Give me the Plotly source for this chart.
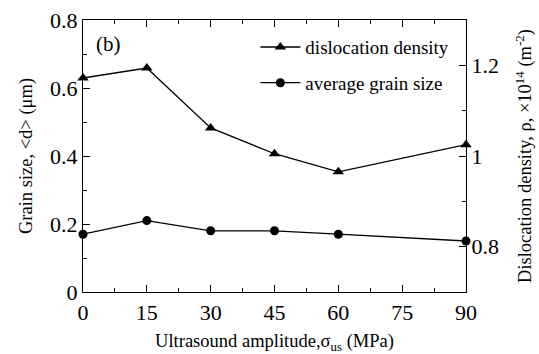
import plotly.graph_objects as go

amplitude = [0, 15, 30, 45, 60, 90]
grain_size = [0.17, 0.21, 0.18, 0.18, 0.17, 0.15]
dislocation_density = [1.172, 1.194, 1.062, 1.005, 0.965, 1.025]
x_ticks = [0, 15, 30, 45, 60, 75, 90]

FONT = "'Liberation Serif', 'Times New Roman', serif"

fig = go.Figure()
fig.add_trace(go.Scatter(
    x=amplitude, y=dislocation_density, yaxis="y2", name="dislocation density",
    legendgroup="a",
    mode="lines+markers", line=dict(color="black", width=1.3),
    marker=dict(symbol="triangle-up", size=10, color="black"), cliponaxis=False))
fig.add_trace(go.Scatter(
    x=amplitude, y=grain_size, name="average grain size", legendgroup="b",
    mode="lines+markers", line=dict(color="black", width=1.3),
    marker=dict(symbol="circle", size=9, color="black"), cliponaxis=False))

axis_common = dict(showline=True, linecolor="black", linewidth=1.3, showgrid=False,
                   zeroline=False, ticks="inside", tickcolor="black", ticklen=7, tickwidth=1.2,
                   automargin=False,
                   tickfont=dict(family=FONT, size=22, color="black"))
minor_common = dict(ticks="inside", ticklen=4, tickcolor="black", tickwidth=1.2, showgrid=False)

fig.update_layout(
    width=539, height=354,
    margin=dict(l=83, r=73, t=20, b=62),
    plot_bgcolor="white", paper_bgcolor="white",
    font=dict(family=FONT, color="black"),
    xaxis=dict(range=[0, 90], tickvals=x_ticks, mirror="ticks",
               minor=dict(dtick=7.5, **minor_common),
               title=dict(text="Ultrasound amplitude,σ<sub>us</sub> (MPa)",
                          font=dict(family=FONT, size=18.5), standoff=12),
               **axis_common),
    yaxis=dict(range=[0, 0.8], tickvals=[0, 0.2, 0.4, 0.6, 0.8],
               ticktext=["0", "0.2", "0.4", "0.6", "0.8"],
               minor=dict(dtick=0.1, **minor_common),
               title=dict(text="Grain size, &lt;d&gt; (μm)", font=dict(family=FONT, size=18.5),
                          standoff=12),
               **axis_common),
    yaxis2=dict(range=[0.7, 1.3], overlaying="y", side="right",
                tickvals=[0.8, 1.0, 1.2], ticktext=["0.8", "1", "1.2"],
                minor=dict(tickvals=[0.7, 0.9, 1.1], **minor_common),
                title=dict(text="Dislocation density, ρ, ×10<sup>14</sup> (m<sup>-2</sup>)",
                           font=dict(family=FONT, size=18.5), standoff=20),
                **axis_common),
    legend=dict(x=0.45, y=0.97, xanchor="left", yanchor="top",
                bgcolor="rgba(0,0,0,0)", font=dict(family=FONT, size=19),
                tracegroupgap=8, itemwidth=40),
    showlegend=True,
    annotations=[dict(text="(b)", x=0.03, y=0.91, xref="paper", yref="paper",
                      xanchor="left", yanchor="middle", showarrow=False,
                      font=dict(family=FONT, size=21))],
)

fig.write_html("out.html")
